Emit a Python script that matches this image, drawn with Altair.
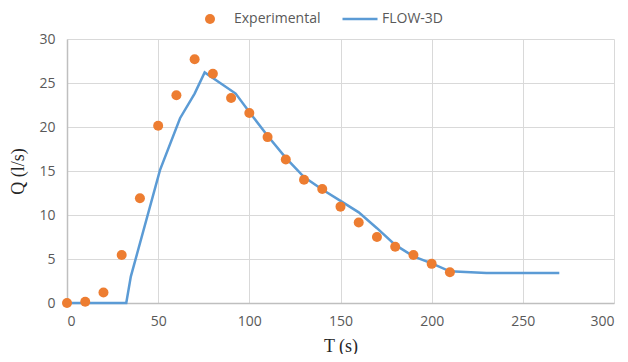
import altair as alt
import pandas as pd

exp_T = [0, 10, 20, 30, 40, 50, 60, 70, 80, 90, 100, 110, 120, 130, 140, 150, 160, 170, 180, 190, 200, 210]
exp_Q = [0, 0.15, 1.2, 5.45, 11.9, 20.15, 23.6, 27.7, 26.05, 23.3, 21.6, 18.85, 16.3, 14.0, 12.95, 10.95, 9.15, 7.5, 6.4, 5.45, 4.45, 3.5]

sim_T = [0, 32.5, 35, 51, 62, 70, 75.5, 92.5, 100, 110, 120, 130, 140, 150, 160, 170, 180, 190, 200, 210, 230, 270]
sim_Q = [0, 0, 3.0, 15.1, 21.0, 23.8, 26.2, 23.8, 21.7, 19.0, 16.5, 14.3, 12.9, 11.6, 10.3, 8.5, 6.6, 5.3, 4.5, 3.6, 3.4, 3.4]

exp_name = "Experimental"
sim_name = "FLOW-3D"
exp_color = "#ED7D31"
sim_color = "#5B9BD5"

df_exp = pd.DataFrame({"T": exp_T, "Q": exp_Q, "series": exp_name})
df_sim = pd.DataFrame({"T": sim_T, "Q": sim_Q, "series": sim_name})

x_enc = alt.X("T:Q", scale=alt.Scale(domain=[0, 300], nice=False),
              axis=alt.Axis(title="T (s)", values=[0, 50, 100, 150, 200, 250, 300]))
y_enc = alt.Y("Q:Q", scale=alt.Scale(domain=[0, 30], nice=False),
              axis=alt.Axis(title="Q (l/s)", values=[0, 5, 10, 15, 20, 25, 30]))

leg_common = dict(title=None, orient="none", direction="horizontal",
                  labelFont="Open Sans", labelFontSize=14, labelColor="#595959")

line = alt.Chart(df_sim).mark_line(strokeWidth=2.5).encode(
    x=x_enc, y=y_enc,
    stroke=alt.Stroke("series:N", scale=alt.Scale(domain=[sim_name], range=[sim_color]),
                      legend=alt.Legend(legendX=274, legendY=-39, symbolType="stroke",
                                        symbolSize=1225, symbolStrokeWidth=2.5,
                                        labelOffset=3, **leg_common)),
)

pts = alt.Chart(df_exp).mark_point(filled=True, opacity=1, size=100, strokeWidth=0).encode(
    x=x_enc, y=y_enc,
    fill=alt.Fill("series:N", scale=alt.Scale(domain=[exp_name], range=[exp_color]),
                  legend=alt.Legend(legendX=136, legendY=-27, symbolType="circle",
                                    symbolSize=100, symbolStrokeWidth=0,
                                    labelOffset=17, **leg_common)),
)

chart = alt.layer(line, pts).resolve_scale(fill="independent", stroke="independent").properties(
    width=547, height=264,
    autosize=alt.AutoSizeParams(type="none"),
    padding={"left": 59, "top": 31, "right": 6, "bottom": 51},
    background="white",
).configure_view(stroke=None).configure_axis(
    gridColor="#d9d9d9", gridWidth=1,
    domainColor="#bfbfbf", domainWidth=1.5,
    ticks=False,
    labelFont="Open Sans", labelFontSize=14, labelColor="#595959",
    titleFont="Liberation Serif", titleFontSize=18, titleFontWeight="normal", titleColor="#262626",
).configure_axisX(labelPadding=11, titlePadding=9).configure_axisY(labelPadding=12, titlePadding=11)

chart.save("out.html", embed_options={"renderer": "svg", "actions": False})
